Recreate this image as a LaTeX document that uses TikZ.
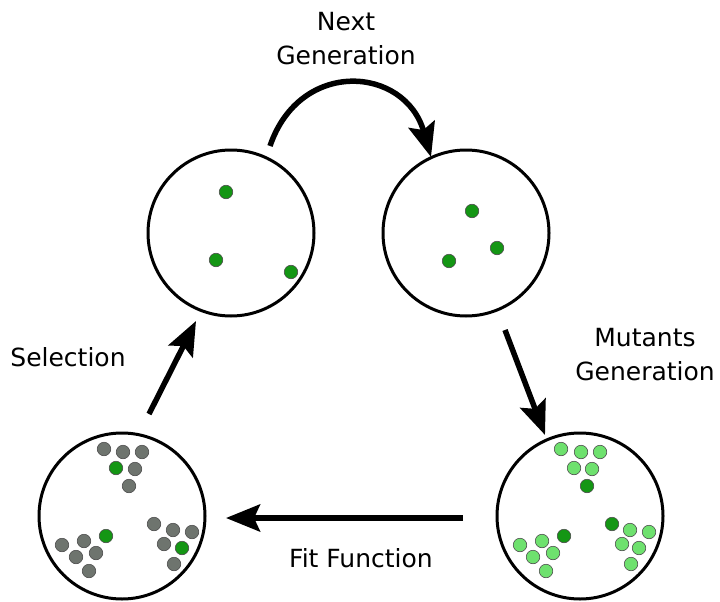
\documentclass[tikz,border=0pt]{standalone}
\usepackage{fontspec}
\setmainfont{DejaVu Sans}
\usetikzlibrary{arrows.meta}
\definecolor{dgreen}{RGB}{20,150,20}
\definecolor{lgreen}{RGB}{110,225,110}
\definecolor{dgray}{RGB}{110,116,110}
\begin{document}
\begin{tikzpicture}[x=1pt,y=-1pt,
  pool/.style={circle,draw=black,line width=3pt,minimum size=166pt,inner sep=0pt},
  dotbase/.style={circle,draw=black!70,line width=0.6pt,minimum size=13.5pt,inner sep=0pt},
  gd/.style={dotbase,fill=dgreen},
  lg/.style={dotbase,fill=lgreen},
  gr/.style={dotbase,fill=dgray},
  bigarrow/.style={line width=5.5pt,-{Stealth[length=34pt,width=27pt,inset=6pt]}},
  lbl/.style={font=\fontsize{25}{34}\selectfont,align=center,inner sep=0pt}]
\useasboundingbox (0,0) rectangle (720,602);
% pools
\node[pool] (p1) at (231,233) {};
\node[pool] (p2) at (466,233) {};
\node[pool] (p3) at (580,516) {};
\node[pool] (p4) at (122,516) {};
% dots in p1
\node[gd] (a1) at (226,192) {};
\node[gd] (a2) at (216,260) {};
\node[gd] (a3) at (291,272) {};
% dots in p2
\node[gd] (b1) at (472,211) {};
\node[gd] (b2) at (497,248) {};
\node[gd] (b3) at (449,261) {};
% dots in p3
\node[lg] (c1) at (561,449) {};
\node[lg] (c2) at (581,452) {};
\node[lg] (c3) at (600,452) {};
\node[lg] (c4) at (574,468) {};
\node[lg] (c5) at (592,469) {};
\node[gd] (c6) at (587,486) {};
\node[gd] (c7) at (564,536) {};
\node[lg] (c8) at (520,545) {};
\node[lg] (c9) at (542,541) {};
\node[lg] (c10) at (533,557) {};
\node[lg] (c11) at (553,553) {};
\node[lg] (c12) at (546,571) {};
\node[gd] (c13) at (612,524) {};
\node[lg] (c14) at (630,530) {};
\node[lg] (c15) at (649,532) {};
\node[lg] (c16) at (622,544) {};
\node[lg] (c17) at (639,548) {};
\node[lg] (c18) at (631,564) {};
% dots in p4
\node[gr] (d1) at (104,449) {};
\node[gr] (d2) at (123,452) {};
\node[gr] (d3) at (142,452) {};
\node[gd] (d4) at (116,468) {};
\node[gr] (d5) at (135,469) {};
\node[gr] (d6) at (129,486) {};
\node[gd] (d7) at (106,536) {};
\node[gr] (d8) at (62,545) {};
\node[gr] (d9) at (84,541) {};
\node[gr] (d10) at (76,557) {};
\node[gr] (d11) at (96,553) {};
\node[gr] (d12) at (89,571) {};
\node[gr] (d13) at (154,524) {};
\node[gr] (d14) at (173,530) {};
\node[gr] (d15) at (192,532) {};
\node[gr] (d16) at (164,544) {};
\node[gd] (d17) at (182,548) {};
\node[gr] (d18) at (174,564) {};
% arrow end points
\coordinate (e1s) at (270,146);
\coordinate (e1t) at (431,157);
\coordinate (e2s) at (505,330);
\coordinate (e2t) at (545,435);
\coordinate (e3s) at (463,518);
\coordinate (e3t) at (226,518);
\coordinate (e4s) at (149,414);
\coordinate (e4t) at (196,321);
\draw[bigarrow] (e1s) .. controls (300,58) and (405,66) .. (e1t);
\draw[bigarrow] (e2s) -- (e2t);
\draw[bigarrow] (e3s) -- (e3t);
\draw[bigarrow] (e4s) -- (e4t);
% labels
\node[lbl] (t1) at (346,39) {Next\\Generation};
\node[lbl] (t2) at (645,355) {Mutants\\Generation};
\node[lbl] (t3) at (68,357) {Selection};
\node[lbl] (t4) at (361,558) {Fit Function};
\end{tikzpicture}
\end{document}
